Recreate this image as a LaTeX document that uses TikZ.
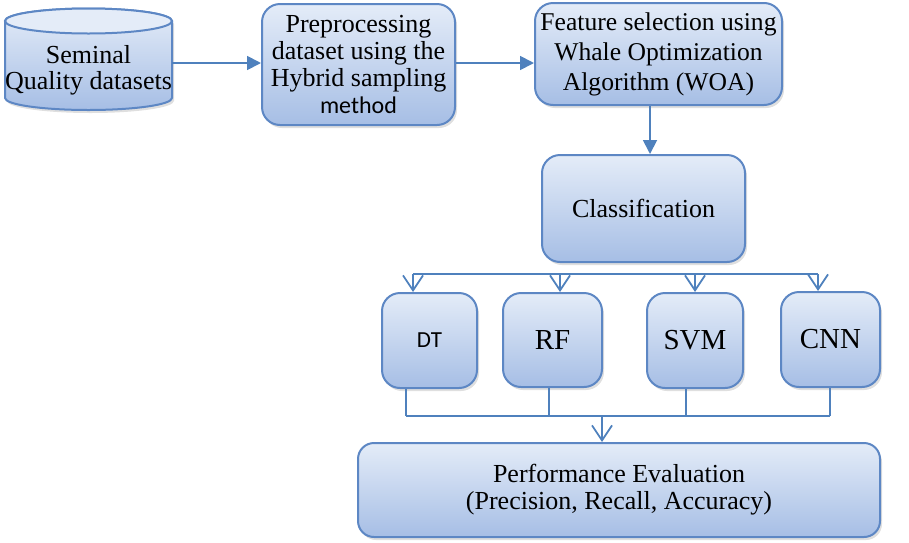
\documentclass[tikz,border=0pt]{standalone}
\usepackage{fontspec}
\setmainfont{Liberation Serif}
\newfontfamily\calibri{Carlito}
\usetikzlibrary{arrows.meta,shadows}

\definecolor{boxtop}{RGB}{228,236,248}
\definecolor{boxbot}{RGB}{166,190,229}
\definecolor{boxline}{RGB}{93,135,196}
\definecolor{flow}{RGB}{79,129,189}

\tikzset{
  stage/.style={draw=boxline, line width=1pt, rounded corners=9pt,
    top color=boxtop, bottom color=boxbot, align=center, inner sep=0pt,
    font=\fontsize{13}{13.5}\selectfont,
    drop shadow={opacity=0.25, shadow xshift=1pt, shadow yshift=-1.5pt}},
  model/.style={stage, minimum width=48pt, minimum height=47.5pt,
    font=\fontsize{14.5}{16}\selectfont},
  flowline/.style={draw=flow, line width=0.9pt},
  fwd/.style={-{Triangle[length=7pt,width=7pt]}},
  branch/.style={-{Straight Barb[length=7.5pt,width=10pt]}}
}

\begin{document}
\begin{tikzpicture}[x=0.5pt,y=-0.5pt]
\useasboundingbox (0,0) rectangle (909,542);

% data store (cylinder)
\path[top color=boxtop, bottom color=boxbot, draw=boxline, line width=1pt,
  drop shadow={opacity=0.25, shadow xshift=1pt, shadow yshift=-1.5pt}]
  (5,21) -- (5,98) arc[start angle=180, end angle=360, x radius=41.75pt, y radius=6pt]
  -- (172,21) arc[start angle=0, end angle=180, x radius=41.75pt, y radius=6.25pt] -- cycle;
\draw[draw=boxline, line width=1pt, fill=boxtop] (88.5,21) ellipse[x radius=41.75pt, y radius=6.25pt];
\node[minimum width=83.5pt, minimum height=51pt, inner sep=0pt] (data) at (88.5,59) {};
\node[align=center, font=\fontsize{13}{13}\selectfont] (datatext) at (88.5,70) {Seminal\\Quality datasets};

% pipeline
\node[stage, minimum width=96.5pt, minimum height=60.5pt] (prep) at (358.5,64.5)
  {Preprocessing\\dataset using the\\Hybrid sampling\\{\calibri\fontsize{12}{13}\selectfont method}};
\node[stage, minimum width=123.5pt, minimum height=51pt, font=\fontsize{12.8}{15}\selectfont] (feat) at (658.5,54)
  {Feature selection using\\Whale Optimization\\Algorithm (WOA)};
\node[stage, minimum width=101.5pt, minimum height=53.5pt] (class) at (643.5,208.5) {Classification};

% classifiers
\node[model, font=\calibri\fontsize{11.5}{13}\selectfont, minimum width=47.5pt] (dt) at (429.5,340.5) {DT};
\node[model, minimum width=49.5pt, minimum height=47pt] (rf) at (552.5,340) {RF};
\node[model] (svm) at (695,340.5) {SVM};
\node[model, minimum width=49.5pt] (cnn) at (830.5,339.5) {CNN};

\node[stage, minimum width=261pt, minimum height=47pt, rounded corners=8pt] (perf) at (619,490)
  {Performance Evaluation\\(Precision, Recall, Accuracy)};

% connectors
\coordinate (row) at (0,63);
\coordinate (down) at (650,0);
\draw[flowline,fwd] (data.east |- row) -- (prep.west |- row);
\draw[flowline,fwd] (prep.east |- row) -- (feat.west |- row);
\draw[flowline,fwd] (feat.south -| down) -- (class.north -| down);

\coordinate (busL) at (413,274);
\coordinate (busR) at (818,274);
\draw[flowline] (busL) -- (busR);
\foreach \m/\x in {dt/413, rf/560, svm/695, cnn/818} {
  \coordinate (t) at (\x,274);
  \draw[flowline,branch] (t) -- (t |- \m.north);
}

\coordinate (sumL) at (406,416);
\coordinate (sumR) at (830,416);
\foreach \m/\x in {dt/406, rf/549, svm/686, cnn/830} {
  \coordinate (s) at (\x,416);
  \draw[flowline] (s |- \m.south) -- (s);
}
\draw[flowline] (sumL) -- (sumR);
\coordinate (join) at (602,416);
\draw[flowline,branch] (join) -- (join |- perf.north);
\end{tikzpicture}
\end{document}
